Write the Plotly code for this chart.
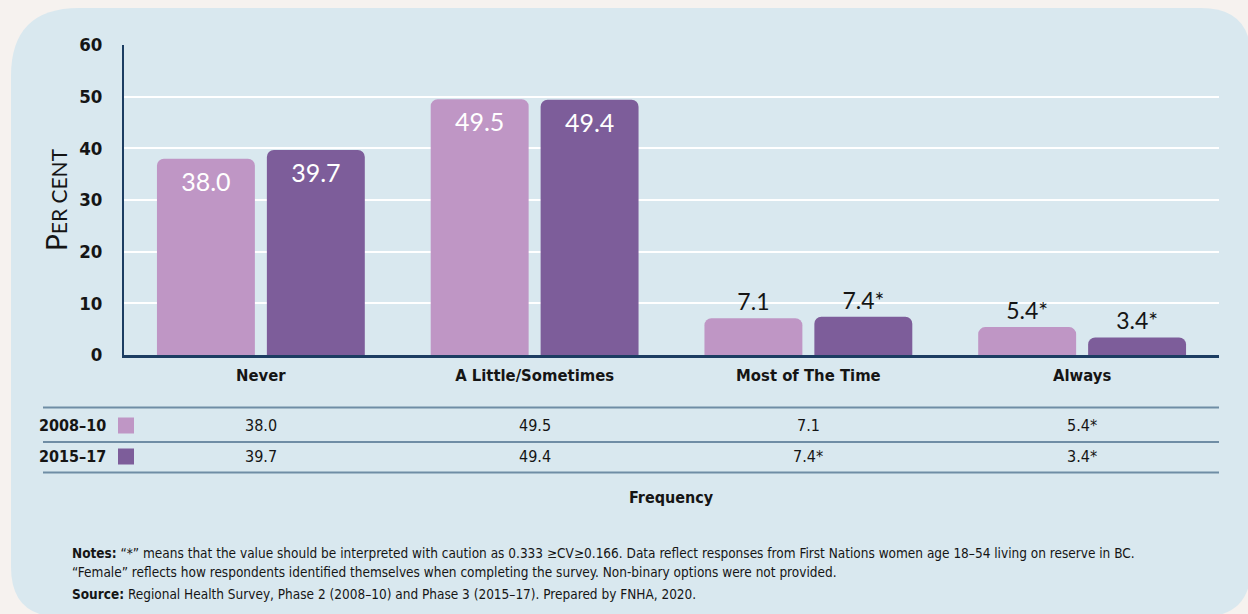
import plotly.graph_objects as go

# data
categories = ["Never", "A Little/Sometimes", "Most of The Time", "Always"]
periods = ["2008–10", "2015–17"]
values_2008 = [38.0, 49.5, 7.1, 5.4]
values_2015 = [39.7, 49.4, 7.4, 3.4]
caution_2008 = [False, False, False, True]
caution_2015 = [False, False, True, True]
y_ticks = [0, 10, 20, 30, 40, 50, 60]

colors = ["#BF96C5", "#7D5D9A"]
COND = "Liberation Sans Narrow, DejaVu Sans Condensed, Arial Narrow, sans-serif"
GEO = "Lato, Open Sans, sans-serif"
INK = "#151515"
BG = "#F6F2EF"

W, H = 1248, 614
L, R, T, B = 124, 29, 45, 259
PW = W - L - R
PH = H - T - B


# pixel -> paper helpers for things drawn outside the plot area
def px(x):
    return (x - L) / PW


def py(y):
    return (H - B - y) / PH


def lab(v, c):
    return f"{v:.1f}*" if c else f"{v:.1f}"


series = [values_2008, values_2015]
cautions = [caution_2008, caution_2015]

fig = go.Figure()
for name, vals, caut, col in zip(periods, series, cautions, colors):
    fig.add_bar(
        x=categories, y=vals, name=name,
        marker=dict(color=col, line=dict(width=0)),
        text=[lab(v, c) for v, c in zip(vals, caut)],
        textposition=["inside" if v > 20 else "outside" for v in vals],
        insidetextanchor="end",
        insidetextfont=dict(family=GEO, size=25, color="white"),
        outsidetextfont=dict(family=GEO, size=23, color=INK),
        cliponaxis=False, hoverinfo="skip",
    )


# card background
def rounded(x0, y0, x1, y1, r_tl, r_o):
    pts = [
        f"M {px(x0 + r_tl)},{py(y0)}",
        f"L {px(x1 - r_o)},{py(y0)}",
        f"Q {px(x1)},{py(y0)} {px(x1)},{py(y0 + r_o)}",
        f"L {px(x1)},{py(y1 - r_o)}",
        f"Q {px(x1)},{py(y1)} {px(x1 - r_o)},{py(y1)}",
        f"L {px(x0 + r_o)},{py(y1)}",
        f"Q {px(x0)},{py(y1)} {px(x0)},{py(y1 - r_o)}",
        f"L {px(x0)},{py(y0 + r_tl)}",
        f"Q {px(x0)},{py(y0)} {px(x0 + r_tl)},{py(y0)}",
        "Z",
    ]
    return " ".join(pts)


fig.add_shape(type="path", path=rounded(11, 8, 1251, 617, 68, 50),
              xref="paper", yref="paper", fillcolor="#D9E8EF",
              line=dict(width=0), layer="below")

# table lines
for yl in [407.5, 442, 472.5]:
    fig.add_shape(type="line", xref="paper", yref="paper",
                  x0=px(43), x1=px(1219), y0=py(yl), y1=py(yl),
                  line=dict(color="#6F8DA5", width=2))

# table rows
row_y = [425.5, 456.5]
for name, vals, caut, col, yc in zip(periods, series, cautions, colors, row_y):
    fig.add_annotation(x=px(108), y=py(yc), xref="paper", yref="paper",
                       text=f"<b>{name}</b>", showarrow=False,
                       xanchor="right", yanchor="middle",
                       font=dict(family=COND, size=16, color=INK))
    fig.add_shape(type="rect", xref="paper", yref="paper",
                  x0=px(118), x1=px(134), y0=py(yc + 8), y1=py(yc - 8),
                  fillcolor=col, line=dict(width=0))
    for cat, v, c in zip(categories, vals, caut):
        fig.add_annotation(x=cat, xref="x", y=py(yc), yref="paper",
                           text=lab(v, c), showarrow=False,
                           xanchor="center", yanchor="middle",
                           font=dict(family=COND, size=16, color=INK))

fig.add_annotation(x=0.5, y=py(497), xref="paper", yref="paper",
                   text="<b>Frequency</b>", showarrow=False,
                   xanchor="center", yanchor="middle",
                   font=dict(family=COND, size=16, color=INK))

notes = [
    (553, "<b>Notes:</b> “*” means that the value should be interpreted with caution as 0.333 ≥CV≥0.166. "
          "Data reflect responses from First Nations women age 18–54 living on reserve in BC."),
    (572, "“Female” reflects how respondents identified themselves when completing the survey. "
          "Non-binary options were not provided."),
    (594, "<b>Source:</b> Regional Health Survey, Phase 2 (2008–10) and Phase 3 (2015–17). Prepared by FNHA, 2020."),
]
for yn, txt in notes:
    fig.add_annotation(x=px(70), y=py(yn), xref="paper", yref="paper",
                       text=txt, showarrow=False,
                       xanchor="left", yanchor="middle",
                       font=dict(family=COND, size=13.5, color=INK))

fig.update_layout(
    width=W, height=H,
    margin=dict(l=L, r=R, t=T, b=B, autoexpand=False),
    paper_bgcolor=BG, plot_bgcolor="rgba(0,0,0,0)",
    barmode="group", bargap=0.197, bargroupgap=0.109, barcornerradius=7,
    showlegend=False,
)
fig.update_xaxes(
    showline=True, linecolor="#1C3D62", linewidth=3,
    showgrid=False, ticks="", ticklabelstandoff=3,
    tickfont=dict(family=COND, size=16.5, color=INK, weight="bold"),
)
fig.update_yaxes(
    range=[0, 60], tickvals=y_ticks, showline=True, linecolor="#1C3D62", linewidth=2,
    gridcolor="white", gridwidth=1.5, zeroline=False, ticks="",
    ticklabelstandoff=16,
    tickfont=dict(family=COND, size=18.5, color=INK, weight="bold"),
    title=dict(text="P<span style='font-size:21px'>ER CENT</span>", standoff=3,
               font=dict(family=GEO, size=28, color=INK)),
)

fig.write_html("out.html", config={"displayModeBar": False},
               post_script="document.body.style.margin='0';"
                           f"document.body.style.background='{BG}';")
